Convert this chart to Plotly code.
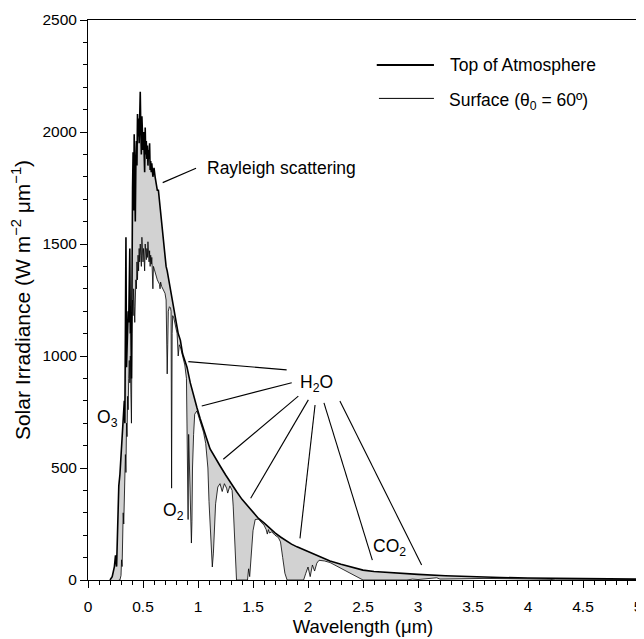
import plotly.graph_objects as go

# ---- Top of atmosphere spectrum (wavelength um, W m-2 um-1)
toa_wl = [0.20, 0.22, 0.24, 0.25, 0.26, 0.27, 0.28, 0.29, 0.30, 0.31, 0.32, 0.33, 0.335, 0.34, 0.345,
          0.35, 0.355, 0.36, 0.365, 0.37, 0.375, 0.38, 0.385, 0.39, 0.395, 0.40, 0.405, 0.41, 0.415,
          0.42, 0.425, 0.43, 0.435, 0.44, 0.445, 0.45, 0.455, 0.46, 0.465, 0.47, 0.475, 0.48, 0.485,
          0.49, 0.495, 0.50, 0.505, 0.51, 0.515, 0.52, 0.525, 0.53, 0.535, 0.54, 0.545, 0.55, 0.555,
          0.56, 0.565, 0.57, 0.575, 0.58, 0.59, 0.60, 0.61, 0.62, 0.63, 0.64, 0.65, 0.66, 0.67, 0.68,
          0.69, 0.70, 0.71, 0.72, 0.73, 0.74, 0.75, 0.76, 0.77, 0.78, 0.79, 0.80, 0.82, 0.84, 0.86,
          0.88, 0.90, 0.93, 0.96, 0.99, 1.02, 1.05, 1.08, 1.11, 1.15, 1.20, 1.25, 1.30, 1.35, 1.40,
          1.45, 1.50, 1.55, 1.60, 1.65, 1.70, 1.75, 1.80, 1.85, 1.90, 1.95, 2.00, 2.10, 2.20, 2.30,
          2.40, 2.50, 2.60, 2.80, 3.00, 3.25, 3.50, 3.75, 4.00, 4.50, 5.00]
toa_val = [0, 15, 60, 110, 60, 330, 420, 470, 560, 640, 720, 800, 700, 950, 1530,
           950, 1100, 1050, 1200, 1150, 1300, 1480, 1100, 1150, 900, 1550, 1750, 1910, 1650,
           1990, 1780, 1600, 1850, 1960, 1850, 2080, 1980, 2060, 1950, 2100, 2180, 2020, 1900,
           2070, 1950, 1920, 2000, 1930, 1820, 2020, 1900, 1960, 1880, 1940, 1850, 1920, 1880,
           1950, 1830, 1870, 1820, 1860, 1800, 1840, 1800, 1770, 1740, 1740, 1690, 1640, 1590, 1530,
           1480, 1440, 1400, 1380, 1350, 1320, 1290, 1270, 1240, 1210, 1180, 1150, 1100, 1070, 1010,
           980, 950, 880, 820, 770, 720, 670, 630, 585, 550, 510, 470, 430, 395, 360,
           330, 300, 275, 255, 232, 210, 192, 175, 160, 148, 138, 125, 105, 85, 70,
           56, 44, 38, 30, 25, 19, 14, 11, 9, 6, 4]

# ---- Surface spectrum (solar zenith 60 deg)
sfc_wl = [0.28, 0.29, 0.30, 0.305, 0.31, 0.315, 0.32, 0.325, 0.33, 0.335, 0.34, 0.345, 0.35, 0.355,
          0.36, 0.365, 0.37, 0.375, 0.38, 0.385, 0.39, 0.395, 0.40, 0.405, 0.41, 0.415, 0.42, 0.425,
          0.43, 0.435, 0.44, 0.445, 0.45, 0.455, 0.46, 0.465, 0.47, 0.475, 0.48, 0.485, 0.49, 0.495,
          0.50, 0.505, 0.51, 0.515, 0.52, 0.525, 0.53, 0.535, 0.54, 0.545, 0.55, 0.555, 0.56, 0.565,
          0.57, 0.575, 0.58, 0.585, 0.59, 0.595, 0.60, 0.61, 0.62, 0.63, 0.64, 0.65, 0.655, 0.66,
          0.67, 0.68, 0.69, 0.70, 0.71, 0.715, 0.72, 0.725, 0.73, 0.74, 0.75, 0.755, 0.76, 0.765,
          0.77, 0.78, 0.79, 0.80, 0.81, 0.82, 0.83, 0.84, 0.86, 0.88, 0.895, 0.905, 0.91, 0.915,
          0.925, 0.935, 0.94, 0.945, 0.95, 0.96, 0.97, 0.99, 1.02, 1.05, 1.07, 1.09, 1.10, 1.11,
          1.12, 1.13, 1.14, 1.15, 1.16, 1.18, 1.20, 1.22, 1.24, 1.26, 1.27, 1.29, 1.31, 1.32, 1.33,
          1.34, 1.35, 1.45, 1.46, 1.47, 1.48, 1.49, 1.50, 1.52, 1.55, 1.58, 1.60, 1.62, 1.63, 1.64,
          1.65, 1.67, 1.70, 1.73, 1.75, 1.77, 1.79, 1.81, 1.96, 1.98, 2.00, 2.02, 2.04, 2.06, 2.08,
          2.10, 2.15, 2.20, 2.25, 2.30, 2.35, 2.40, 2.45, 2.50, 2.90, 2.95, 3.00, 3.10, 3.17, 3.20,
          3.40, 3.60, 3.80, 4.00, 4.20, 4.25, 4.40, 4.50, 4.70, 5.00]
sfc_val = [0, 0, 20, 90, 60, 200, 300, 250, 420, 380, 560, 480, 700, 640,
           820, 760, 900, 980, 880, 1000, 830, 700, 1100, 1250, 1180, 1300, 1220, 1150,
           1250, 1340, 1300, 1420, 1340, 1450, 1380, 1480, 1420, 1500, 1450, 1400, 1530, 1460,
           1420, 1480, 1440, 1380, 1500, 1460, 1430, 1480, 1440, 1510, 1460, 1420, 1470, 1400,
           1450, 1410, 1440, 1380, 1300, 1400, 1390, 1380, 1360, 1340, 1330, 1320, 1300, 1330,
           1310, 1300, 1290, 1280, 1250, 1150, 920, 1050, 1200, 1220, 1215, 1200, 410, 1100,
           1180, 1170, 1150, 1130, 1100, 1000, 1050, 1040, 1000, 960, 900, 600, 270, 650,
           450, 250, 165, 260, 500, 650, 740, 755, 710, 660, 610, 500, 350, 250,
           140, 58, 120, 250, 340, 415, 430, 395, 430, 410, 388, 420, 400, 330, 200,
           80, 0, 0, 50, 15, 90, 170, 220, 270, 272, 255, 245, 225, 205, 225,
           210, 215, 200, 190, 170, 100, 30, 0, 0, 30, 58, 15, 67, 40, 75,
           88, 85, 78, 65, 52, 38, 25, 12, 0, 0, 4, 2, 6, 10, 4,
           6, 7, 6, 5, 3, 0, 0, 3, 3, 2]

# ---- Labels
labels = ["Rayleigh scattering", "H<sub>2</sub>O", "O<sub>3</sub>", "O<sub>2</sub>", "CO<sub>2</sub>"]
label_x = [1.064, 2.08, 0.18, 0.776, 2.745]
label_y = [1839, 879, 723, 305, 143]
label_anchor = ["left", "center", "center", "center", "center"]

# pointer lines (x0, y0, x1, y1) in data units
pointers = [
    (0.679, 1774, 0.982, 1838),
    (0.912, 975, 1.806, 938),
    (1.034, 777, 1.852, 881),
    (1.230, 539, 1.912, 821),
    (1.479, 365, 2.003, 804),
    (1.927, 186, 2.064, 781),
    (2.585, 89, 2.145, 791),
    (3.033, 67, 2.290, 799),
]

legend_names = ["Top of Atmosphere", "Surface (θ<sub>0</sub> = 60º)"]

FONT = "Liberation Sans, Arial, Helvetica, sans-serif"

fig = go.Figure()
fig.add_trace(go.Scatter(x=sfc_wl, y=sfc_val, mode="lines",
                         line=dict(color="black", width=0.8), showlegend=False))
fig.add_trace(go.Scatter(x=toa_wl, y=toa_val, mode="lines", fill="tonexty",
                         fillcolor="#d2d2d2",
                         line=dict(color="black", width=1.6), showlegend=False))

shapes = []
for (x0, y0, x1, y1) in pointers:
    shapes.append(dict(type="line", xref="x", yref="y", x0=x0, y0=y0, x1=x1, y1=y1,
                       line=dict(color="black", width=1.1)))

# legend (drawn manually)
shapes.append(dict(type="line", xref="paper", yref="paper", x0=0.525, x1=0.629, y0=0.9196, y1=0.9196,
                   line=dict(color="black", width=2)))
shapes.append(dict(type="line", xref="paper", yref="paper", x0=0.529, x1=0.629, y0=0.860, y1=0.860,
                   line=dict(color="black", width=1)))

annotations = []
for t, x, y, a in zip(labels, label_x, label_y, label_anchor):
    annotations.append(dict(x=x, y=y, xref="x", yref="y", text=t, showarrow=False,
                            xanchor=a, yanchor="middle",
                            font=dict(family=FONT, size=17.5, color="black")))
annotations.append(dict(x=0.6545, y=0.9196, xref="paper", yref="paper", text=legend_names[0],
                        showarrow=False, xanchor="left", yanchor="middle",
                        font=dict(family=FONT, size=17.5, color="black")))
annotations.append(dict(x=0.653, y=0.855, xref="paper", yref="paper",
                        text=legend_names[1],
                        showarrow=False, xanchor="left", yanchor="middle",
                        font=dict(family=FONT, size=17.5, color="black")))

# page has an 8px body margin, so the figure is sized/offset accordingly
fig.update_layout(
    width=636, height=631,
    margin=dict(l=80, r=6, t=12, b=59),
    paper_bgcolor="white", plot_bgcolor="white",
    font=dict(family=FONT, color="black", size=15.5),
    shapes=shapes, annotations=annotations,
)
fig.update_xaxes(
    range=[0, 5], dtick=0.5, tick0=0, ticks="outside", ticklen=7, tickwidth=1, tickcolor="black",
    minor=dict(dtick=0.1, ticks="outside", ticklen=4, tickcolor="black", tickwidth=1),
    showline=True, linecolor="black", linewidth=1, mirror=True, showgrid=False, zeroline=False,
    tickfont=dict(size=15.5), ticklabelstandoff=5, automargin=False,
    title=dict(text="Wavelength (μm)", font=dict(size=18.5), standoff=6),
)
fig.update_yaxes(
    range=[0, 2500], dtick=500, tick0=0, ticks="outside", ticklen=7, tickwidth=1, tickcolor="black",
    minor=dict(dtick=100, ticks="outside", ticklen=4, tickcolor="black", tickwidth=1),
    showline=True, linecolor="black", linewidth=1, mirror=True, showgrid=False, zeroline=False,
    tickfont=dict(size=15.5), automargin=False,
    title=dict(text="Solar Irradiance (W m<sup>−2</sup> μm<sup>−1</sup>)", font=dict(size=21), standoff=6),
)

fig.write_html("out.html")
